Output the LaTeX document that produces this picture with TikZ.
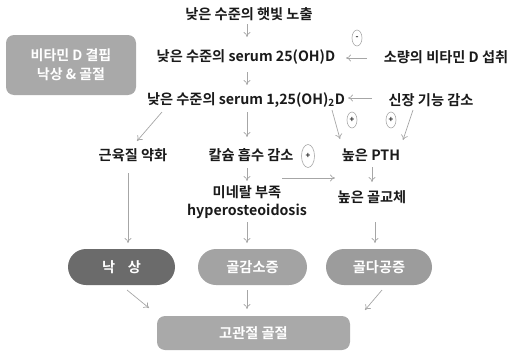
\documentclass[tikz,border=0pt]{standalone}
\usepackage{fontspec}
\setmainfont{Noto Sans CJK KR Bold}
\usetikzlibrary{shapes.geometric,arrows.meta}
\definecolor{arr}{HTML}{A6A6A6}
\definecolor{boxA}{HTML}{A9A9A9}
\definecolor{dark}{HTML}{6B6B6B}
\definecolor{mid}{HTML}{A3A3A3}
\definecolor{mid2}{HTML}{9C9C9C}
\definecolor{txt}{HTML}{1A1A1A}
\begin{document}
\begin{tikzpicture}[x=1pt,y=-1pt,
  lbl/.style={font=\fontsize{14.2}{16}\selectfont, text=txt, inner sep=0pt, align=center},
  conn/.style={draw=arr, line width=0.7pt, -{To[length=5pt,width=7pt]}},
  sign/.style={ellipse, draw=arr, line width=0.6pt, minimum width=10pt, minimum height=16pt, inner sep=0pt, font=\fontsize{8}{9}\selectfont, text=txt}
]
\useasboundingbox (0,0) rectangle (515,351);
% grey box
\fill[boxA, rounded corners=8pt] (6,35) rectangle (136,95);
\node[lbl, text=white, font=\fontsize{14}{19}\selectfont] (vitd) at (71,65) {비타민 D 결핍\\낙상 \& 골절};
% texts
\node[lbl] (sun) at (249,14) {낮은 수준의 햇빛 노출};
\node[lbl] (s25) at (246,57) {낮은 수준의 serum 25(OH)D};
\node[lbl] (intake) at (446,57) {소량의 비타민 D 섭취};
\node[lbl] (s125) at (246,100) {낮은 수준의 serum 1,25(OH)\textsubscript{2}D};
\node[lbl] (kidney) at (431,100) {신장 기능 감소};
\node[lbl] (muscle) at (133,155) {근육질 약화};
\node[lbl] (calc) at (251,155) {칼슘 흡수 감소};
\node[lbl] (pth) at (371,155) {높은 PTH};
\node[lbl, font=\fontsize{14.2}{18}\selectfont] (mineral) at (247,202) {미네랄 부족\\hyperosteoidosis};
\node[lbl] (turn) at (372,197) {높은 골교체};
% signs
\node[sign] (m1) at (357,38) {-};
\node[sign] (p1) at (352,120) {+};
\node[sign] (p2) at (391,120) {+};
\node[sign, minimum height=23pt, minimum width=13pt] (p3) at (308,156) {+};
% pills
\fill[dark, rounded corners=18pt] (68,249) rectangle (175,285);
\node[lbl, text=white] (fall) at (121.5,267) {낙\hspace{0.9em}상};
\fill[mid, rounded corners=18pt] (198,249) rectangle (307,285);
\node[lbl, text=white] (osteopenia) at (252.5,267) {골감소증};
\fill[mid2, rounded corners=18pt] (326,249) rectangle (432,285);
\node[lbl, text=white] (osteoporosis) at (379,267) {골다공증};
\fill[boxA, rounded corners=8pt] (157,316) rectangle (350,350);
\node[lbl, text=white] (hip) at (253.5,333) {고관절 골절};
% coordinates for connector ends
\coordinate (a1) at (247,24); \coordinate (a2) at (247,37);
\coordinate (b1) at (247,72); \coordinate (b2) at (247,85);
\coordinate (c1) at (367,58); \coordinate (c2) at (346,58);
\coordinate (d1) at (372,98); \coordinate (d2) at (348,98);
\coordinate (e1) at (162,112); \coordinate (e2) at (137,141);
\coordinate (f1) at (247,112); \coordinate (f2) at (247,137);
\coordinate (g1) at (332,110); \coordinate (g2) at (340,139);
\coordinate (h1) at (413,110); \coordinate (h2) at (403,140);
\coordinate (i1) at (247,168); \coordinate (i2) at (247,181);
\coordinate (j1) at (282,178); \coordinate (j2) at (335,178);
\coordinate (k1) at (372,167); \coordinate (k2) at (372,182);
\coordinate (l1) at (128,173); \coordinate (l2) at (128,243);
\coordinate (m1a) at (247,222); \coordinate (m2a) at (247,243);
\coordinate (n1) at (375,222); \coordinate (n2) at (375,243);
\coordinate (o1) at (127,290); \coordinate (o2) at (149,308);
\coordinate (q1) at (247,290); \coordinate (q2) at (247,309);
\coordinate (r1) at (382,290); \coordinate (r2) at (365,310);
\foreach \s/\t in {a1/a2,b1/b2,c1/c2,d1/d2,e1/e2,f1/f2,g1/g2,h1/h2,i1/i2,j1/j2,k1/k2,l1/l2,m1a/m2a,n1/n2,o1/o2,q1/q2,r1/r2}
  \draw[conn] (\s) -- (\t);
\end{tikzpicture}
\end{document}
